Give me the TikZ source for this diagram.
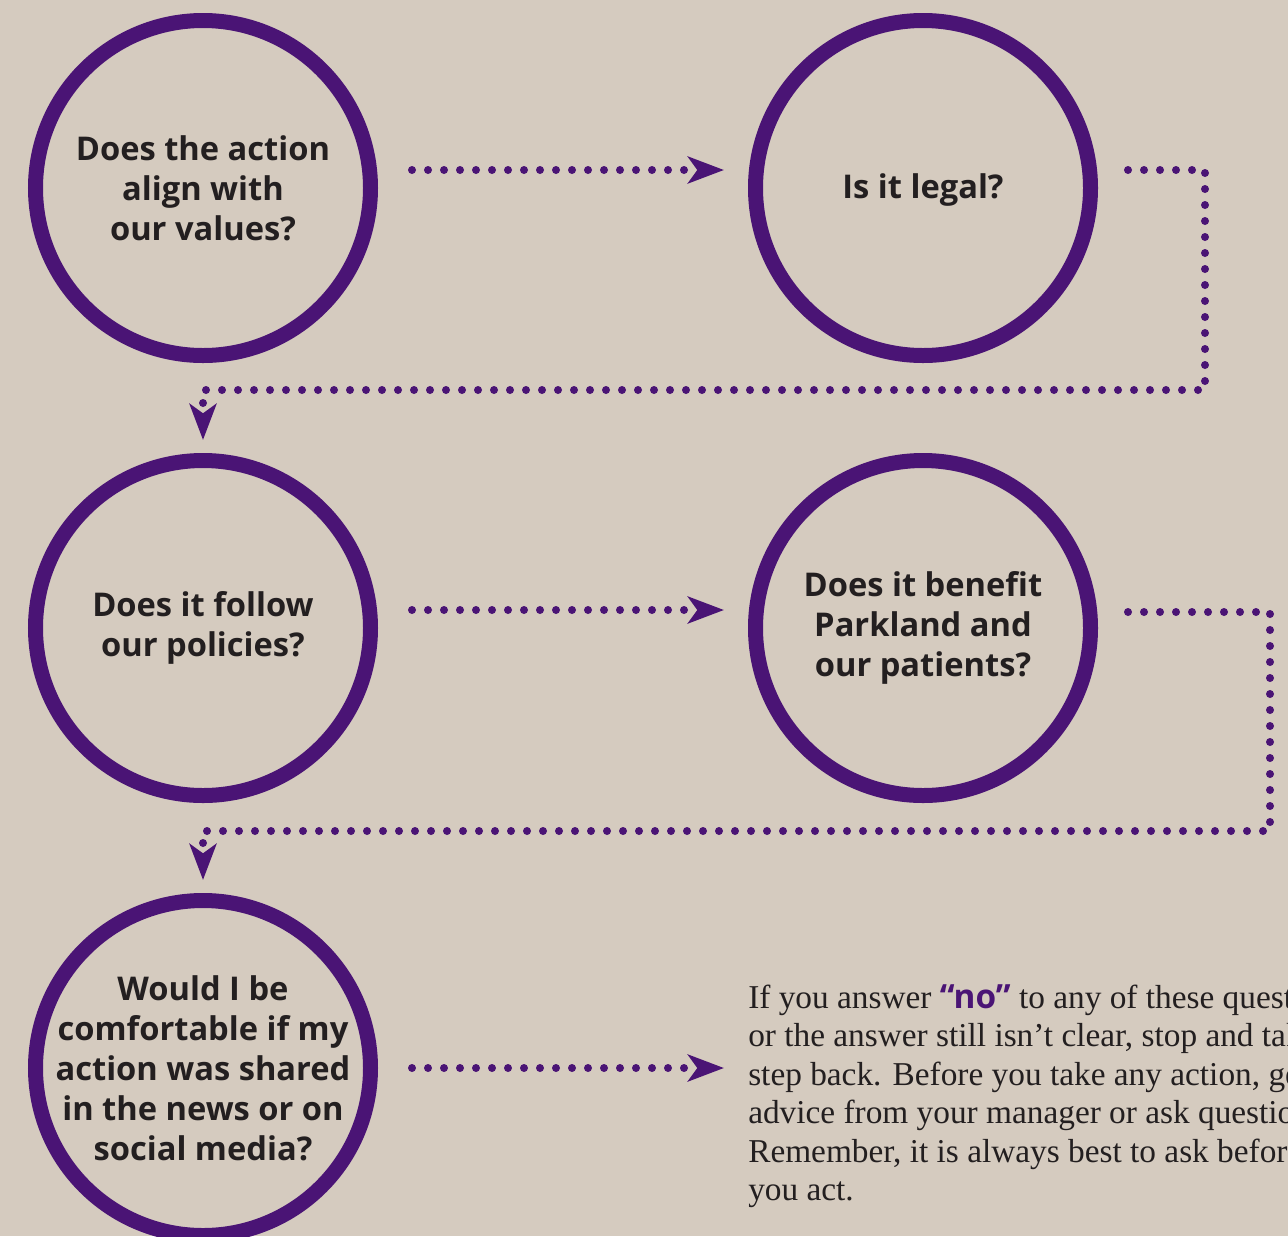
\documentclass[tikz,border=0pt]{standalone}
\usepackage{fontspec}
\setmainfont{Liberation Serif}
\setsansfont{Open Sans}
\usepackage{xcolor}
\usepackage{tikz}
\usetikzlibrary{arrows.meta,calc,positioning}
\definecolor{bgtan}{HTML}{D5CBBF}
\definecolor{ringpurple}{HTML}{4A1475}
\definecolor{inkdark}{HTML}{231F20}
\tikzset{
  question/.style={circle,draw=ringpurple,line width=11.25pt,minimum size=251.25pt,inner sep=0pt},
  qtext/.style={align=center,inner sep=0pt,font=\sffamily\bfseries\fontsize{24.5}{30}\selectfont,text=inkdark},
  flow/.style={ringpurple,line width=6pt,line cap=round,dash pattern=on 0pt off 12pt,
    -{Stealth[length=27pt,width=20pt,inset=7pt]}}
}

\begin{document}
\begin{tikzpicture}[x=0.75pt,y=-0.75pt]
\fill[bgtan] (0,0) rectangle (1288,1236);
\useasboundingbox (0,0) rectangle (1288,1236);
\clip (0,0) rectangle (1288,1236);
% questions
\node[question] (q1) at (203,188) {};
\node[question] (q2) at (923,188) {};
\node[question] (q3) at (203,628) {};
\node[question] (q4) at (923,628) {};
\node[question] (q5) at (203,1068) {};
\node[qtext] (t1) at (q1) {Does the action\\align with\\our values?};
\node[qtext] (t2) at ($(q2)+(0,2)$) {Is it legal?};
\node[qtext] (t3) at (q3) {Does it follow\\our policies?};
\node[qtext] (t4) at (q4) {Does it benefit\\Parkland and\\our patients?};
\node[qtext] (t5) at (q5) {Would I be\\comfortable if my\\action was shared\\in the news or on\\social media?};
% advice
\node[anchor=north west,align=left,inner sep=0pt,text=inkdark,
  font=\fontsize{25}{28.9}\selectfont] (advice) at (748,984)
  {If you answer {\sffamily\bfseries\color{ringpurple}“no”} to any of these questions,\\
   or the answer still isn’t clear, stop and take a\\
   step back. Before you take any action, get\\
   advice from your manager or ask questions.\\
   Remember, it is always best to ask before\\
   you act.};
% connectors
\coordinate (turn1) at (1205,390);
\coordinate (turn2) at (1270,831);
\draw[flow] ($(q1.east)+(34,-18)$) -- ($(q2.west)+(-24,-18)$);
\draw[flow] ($(q2.east)+(30,-18)$) -| (turn1) -- (turn1 -| q3) -- ($(q3.north)+(0,-13)$);
\draw[flow] ($(q3.east)+(34,-18)$) -- ($(q4.west)+(-24,-18)$);
\draw[flow] ($(q4.east)+(30,-16)$) -| (turn2) -- (turn2 -| q5) -- ($(q5.north)+(0,-13)$);
\draw[flow] ($(q5.east)+(34,0)$) -- ($(q5.east)+(346,0)$);
\end{tikzpicture}
\end{document}
